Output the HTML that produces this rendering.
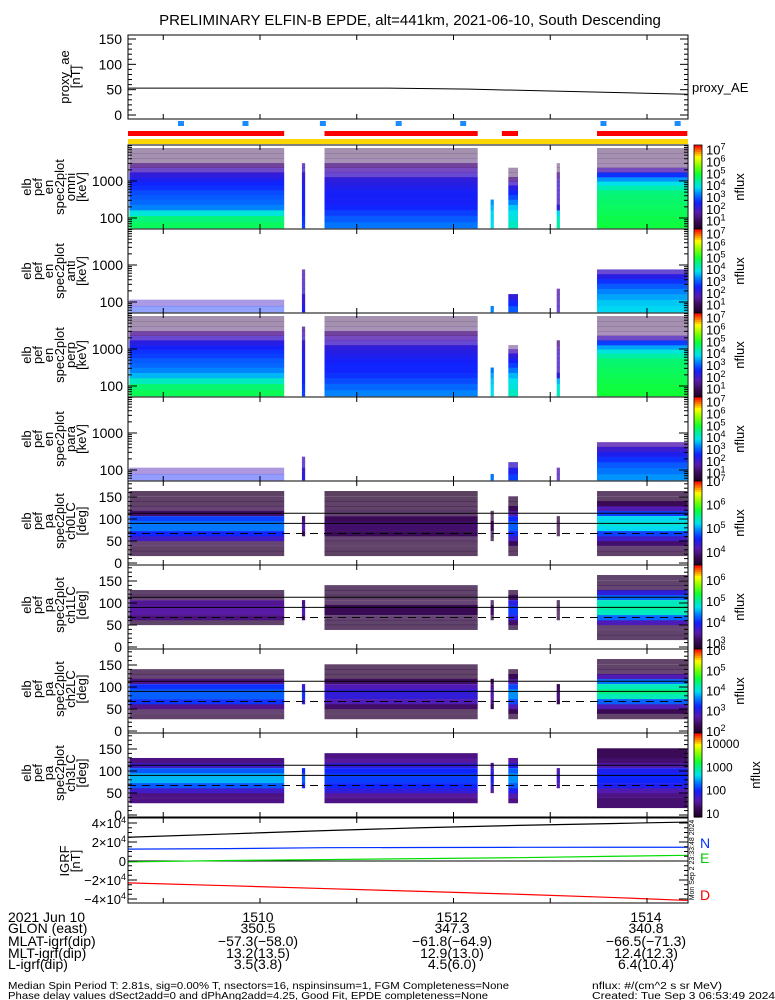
<!DOCTYPE html>
<html><head><meta charset="utf-8">
<style>
html,body{margin:0;padding:0;background:#fff;}
svg{display:block;font-family:"Liberation Sans",sans-serif;}
text{fill:#000;}
</style></head>
<body>
<svg id="chart" width="775" height="1000" viewBox="0 0 775 1000" xmlns="http://www.w3.org/2000/svg">
<text x="410" y="25" font-size="15" text-anchor="middle">PRELIMINARY ELFIN-B EPDE, alt=441km, 2021-06-10, South Descending</text>
<g id="layer"></g>
</svg>
<script>
// ---- time data (seconds after 15:08:00) ----
const segStart = [39, 146, 160, 263, 274, 304, 329];
const segEnd   = [135, 148, 255, 265, 280, 306, 385];
const scienceStart = [38, 160, 270, 329];
const scienceEnd   = [135, 255, 280, 385];
const spinMarks = [71, 111, 159, 206, 246, 333, 379];
const minuteTicks = [1509, 1510, 1511, 1512, 1513, 1514];

// ---- proxy AE ----
const aeT = [38, 200, 250, 385];
const aeV = [53, 53, 51, 41];
const aeTicks = [0, 50, 100, 150];

// ---- energy spectra (log10 nflux), 16 channels ----
const energyCenters = [63, 97, 138, 194, 271, 367, 487, 658, 876, 1104, 1475, 1994, 2627, 3513, 4654, 6565];
const N = null;
const omniSegs = [
 [4.75,4.6,4.0,3.3,3.1,3.0,2.9,2.7,2.6,2.4,2.2,1.9,1.4,1.0,0.9,0.9],
 [2.8,2.7,2.6,2.6,2.5,2.5,2.4,2.4,2.3,2.2,2.1,2.0,1.9,N,N,N],
 [3.2,3.0,2.8,2.6,2.5,2.5,2.5,2.4,2.3,2.2,2.0,1.8,1.4,1.1,0.9,0.9],
 [3.9,3.8,3.8,3.6,3.4,N,N,N,N,N,N,N,N,N,N,N],
 [4.2,4.0,3.9,3.7,3.3,2.9,2.6,2.3,2.0,1.4,0.9,0.9,N,N,N,N],
 [4.4,4.2,3.8,2.2,2.0,2.0,2.0,2.0,2.0,1.8,1.5,1.0,1.0,N,N,N],
 [4.9,4.85,4.8,4.75,4.7,4.65,4.6,4.3,3.9,3.4,2.7,1.8,1.1,1.0,0.9,0.9]
];
const antiSegs = [
 [2.7,2.0,N,N,N,N,N,N,N,N,N,N,N,N,N,N],
 [2.4,2.2,2.1,2.0,2.0,1.9,1.9,1.8,N,N,N,N,N,N,N,N],
 [N,N,N,N,N,N,N,N,N,N,N,N,N,N,N,N],
 [3.3,N,N,N,N,N,N,N,N,N,N,N,N,N,N,N],
 [3.0,2.6,2.2,N,N,N,N,N,N,N,N,N,N,N,N,N],
 [2.0,1.9,1.8,1.8,N,N,N,N,N,N,N,N,N,N,N,N],
 [3.8,3.7,3.5,3.3,3.0,2.7,2.3,2.0,N,N,N,N,N,N,N,N]
];
const perpSegs = [
 [4.8,4.65,4.2,3.6,3.3,3.1,3.0,2.8,2.7,2.5,2.3,2.0,1.5,1.1,0.9,0.9],
 [2.8,2.7,2.6,2.6,2.5,2.5,2.4,2.4,2.3,2.2,2.1,2.0,1.9,1.5,N,N],
 [3.3,3.1,2.9,2.7,2.6,2.6,2.5,2.4,2.3,2.2,2.0,1.8,1.4,1.1,0.9,0.9],
 [3.9,3.8,3.7,3.5,3.2,N,N,N,N,N,N,N,N,N,N,N],
 [4.2,4.0,3.9,3.6,3.2,2.8,2.5,2.2,1.9,1.3,N,N,N,N,N,N],
 [4.2,4.0,3.6,2.2,2.0,2.0,2.0,2.0,1.9,1.7,1.4,N,N,N,N,N],
 [4.95,4.9,4.85,4.8,4.75,4.7,4.65,4.4,4.0,3.5,2.8,1.9,1.2,1.0,0.9,0.9]
];
const paraSegs = [
 [2.6,1.9,N,N,N,N,N,N,N,N,N,N,N,N,N,N],
 [2.3,2.1,2.0,1.9,N,N,N,N,N,N,N,N,N,N,N,N],
 [N,N,N,N,N,N,N,N,N,N,N,N,N,N,N,N],
 [3.2,N,N,N,N,N,N,N,N,N,N,N,N,N,N,N],
 [2.8,2.4,2.0,N,N,N,N,N,N,N,N,N,N,N,N,N],
 [1.9,1.8,N,N,N,N,N,N,N,N,N,N,N,N,N,N],
 [3.4,3.2,3.0,2.7,2.4,2.1,1.8,N,N,N,N,N,N,N,N,N]
];

// ---- pitch-angle spectra (log10 nflux), 13 bins ----
const pitchCenters = [22,33,45,56,67,79,90,101,113,124,135,146,158];
const ch0Segs = [
 [3.6,3.6,3.7,4.3,4.6,4.9,4.9,4.7,3.9,3.7,3.6,3.6,3.55],
 [N,N,N,N,3.8,4.2,4.2,3.9,N,N,N,N,N],
 [3.55,3.6,3.6,3.7,3.8,3.9,3.9,3.8,3.7,3.6,3.6,3.55,3.5],
 [N,N,N,3.6,3.7,3.8,3.8,3.7,3.6,N,N,N,N],
 [3.6,3.6,3.8,4.3,4.6,4.8,4.8,4.6,4.2,3.8,3.6,3.6,N],
 [N,N,N,N,3.6,3.7,3.7,3.6,N,N,N,N,N],
 [3.6,3.7,3.9,4.3,4.7,5.2,5.3,5.2,4.7,4.2,3.8,3.6,3.6]
];
const ch1Segs = [
 [N,N,N,2.9,3.3,3.5,3.5,3.4,3.0,2.9,N,N,N],
 [N,N,N,N,3.2,3.6,3.6,3.3,N,N,N,N,N],
 [N,N,2.9,2.9,3.0,3.1,3.1,3.0,2.9,2.9,2.9,N,N],
 [N,N,N,N,3.0,3.2,3.2,3.0,N,N,N,N,N],
 [N,N,2.9,3.2,3.8,4.1,4.1,3.8,3.2,2.9,N,N,N],
 [N,N,N,N,2.9,3.0,3.0,2.9,N,N,N,N,N],
 [2.9,2.9,3.0,3.6,4.3,4.9,5.0,4.9,4.3,3.8,3.0,2.9,2.9]
];
const ch2Segs = [
 [N,2.1,2.2,2.6,3.3,3.5,3.5,3.3,2.6,2.2,2.1,N,N],
 [N,N,N,N,3.0,3.3,3.3,3.0,N,N,N,N,N],
 [N,2.1,2.1,2.4,2.8,3.0,3.0,2.8,2.4,2.1,2.1,2.1,N],
 [N,N,N,2.3,2.6,2.8,2.8,2.6,2.3,N,N,N,N],
 [N,2.1,2.3,2.8,3.4,3.7,3.7,3.4,2.8,2.3,2.1,N,N],
 [N,N,N,N,2.3,2.5,2.5,2.3,N,N,N,N,N],
 [N,2.1,2.3,2.8,3.5,4.2,4.4,4.2,3.6,2.8,2.2,2.1,2.1]
];
const ch3Segs = [
 [N,1.4,1.4,1.7,2.2,2.5,2.5,2.2,1.7,1.4,N,N,N],
 [N,N,N,N,2.0,2.2,2.2,2.0,N,N,N,N,N],
 [N,1.4,1.5,1.8,2.0,2.1,2.1,2.0,1.8,1.5,1.4,N,N],
 [N,N,N,1.5,1.8,1.9,1.9,1.8,1.5,N,N,N,N],
 [N,1.4,1.6,1.9,2.2,2.4,2.4,2.2,1.9,1.5,N,N,N],
 [N,N,N,N,1.6,1.7,1.7,1.6,N,N,N,N,N],
 [1.3,1.3,1.4,1.6,1.9,2.0,2.0,1.9,1.6,1.3,1.2,1.2,N]
];

// ---- IGRF (nT) ----
const igrfT = [38, 100, 160, 220, 280, 340, 385];
const igrfTot = [25000, 28500, 32000, 35000, 37500, 39500, 41000];
const igrfN = [12500, 13000, 14000, 14200, 14400, 14500, 14500];
const igrfE = [-1000, 500, 1500, 2500, 3500, 5000, 6000];
const igrfD = [-23000, -26000, -29000, -32000, -35000, -38500, -41500];

// ---- layout ----
const NS = 'http://www.w3.org/2000/svg';
const layer = document.getElementById('layer');
const XL = 128, XR = 688;
function xOf(t){ return 260 + (t - 120) * 96.75 / 60; }
function mk(tag, attrs, parent){
  const e = document.createElementNS(NS, tag);
  for (const k in attrs) e.setAttribute(k, attrs[k]);
  (parent || layer).appendChild(e);
  return e;
}
const stops = [[0,'#200020'],[0.10,'#3a0a55'],[0.20,'#5a1aa8'],[0.32,'#1020ff'],[0.42,'#0080ff'],[0.50,'#00e0f0'],[0.58,'#00f0a0'],[0.66,'#10ff30'],[0.76,'#80ff00'],[0.86,'#ffff00'],[0.93,'#ff8000'],[1,'#ff0000']];
function hex(h){ return [1,3,5].map(i=>parseInt(h.substr(i,2),16)); }
function cmap(v){
  v = Math.max(0, Math.min(1, v));
  for (let i=1;i<stops.length;i++){
    if (v <= stops[i][0]){
      const a = hex(stops[i-1][1]), b = hex(stops[i][1]);
      const f = (v - stops[i-1][0]) / (stops[i][0] - stops[i-1][0]);
      return 'rgb(' + a.map((c,j)=>Math.round(c + (b[j]-c)*f)).join(',') + ')';
    }
  }
  return '#ff0000';
}
function line(x1,y1,x2,y2,g,extra){
  return mk('line', Object.assign({x1,y1,x2,y2,stroke:'#000','stroke-width':1}, extra||{}), g);
}
function txt(x,y,s,size,anchor,g,extra){
  const t = mk('text', Object.assign({x,y,'font-size':size,'text-anchor':anchor||'start'}, extra||{}), g);
  t.textContent = s;
  return t;
}
function frame(top, bot, g){
  const r = mk('rect', {x:XL, y:top, width:XR-XL, height:bot-top, fill:'none', stroke:'#000', 'stroke-width':1}, g);
  
  
  minuteTicks.forEach(m => {
    const x = xOf((m - 1508) * 60);
    line(x, bot, x, bot-5, g);
    line(x, top, x, top+5, g);
  });
}
function sideLabel(lines, cy, g){
  const x0 = 27, dx = 11;
  lines.forEach((s,i) => {
    const x = x0 + i*dx + (lines.length===2 ? 38 : (6 - lines.length)*6);
    txt(x, cy, s, 13, 'middle', g, {transform:'rotate(-90 '+x+' '+cy+')', dy:'4'});
  });
}
function colorbar(top, bot, lo, hi, labels, g){
  const cb = mk('g', {}, g);
  
  
  const n = 40;
  for (let i=0;i<n;i++){
    const y = bot - (i+1)*(bot-top)/n;
    mk('rect', {x:694, y:y, width:8, height:(bot-top)/n+0.6, fill:cmap((i+0.5)/n)}, cb);
  }
  mk('rect', {x:694, y:top, width:8, height:bot-top, fill:'none', stroke:'#000','stroke-width':0.8}, cb);
  labels.forEach(L => {
    const y = bot - (L.v - lo)/(hi - lo)*(bot-top);
    if (y < top-4 || y > bot+4) return;
    const t = mk('text', {x:706, y:y+5, 'font-size':L.sup?13:12}, cb);
    if (L.sup){
      t.textContent = '10';
      const s = mk('tspan', {dy:-5, 'font-size':9}, t);
      s.textContent = L.sup;
    } else t.textContent = L.s;
  });
  const cy = (top+bot)/2;
  const x = labels.some(l=>l.s && l.s.length>3) ? 760 : 744;
  txt(x, cy, 'nflux', 13, 'middle', cb, {transform:'rotate(-90 '+x+' '+cy+')'});
}

// ---- proxy AE panel ----
(function(){
  const g = mk('g', {});
  
  
  const top = 35, bot = 119;
  const y = v => 115 - v * 76 / 150;
  frame(top, bot, g);
  aeTicks.forEach(v => { line(XL, y(v), XL+8, y(v), g); line(XR, y(v), XR-8, y(v), g); txt(122, y(v)+5, String(v), 14, 'end', g); });
  for (let v=10; v<=150; v+=10){ if (v%50) { line(XL, y(v), XL+4, y(v), g); line(XR, y(v), XR-4, y(v), g);} }
  const pts = aeT.map((t,i)=> xOf(t)+','+y(aeV[i])).join(' ');
  const pl = mk('polyline', {points:pts, fill:'none', stroke:'#000', 'stroke-width':1}, g);
  
  
  sideLabel(['proxy_ae','[nT]'], 77, g);
  txt(692, 92, 'proxy_AE', 13, 'start', g);
})();

// ---- bars ----
(function(){
  const g = mk('g', {});
  
  
  spinMarks.forEach(t => {
    const r = mk('rect', {x:xOf(t)-3, y:121, width:6, height:5, fill:'#1a8cff'}, g);
    
    
  });
  scienceStart.forEach((s,i) => {
    const r = mk('rect', {x:Math.max(XL,xOf(s)), y:131, width:Math.min(XR,xOf(scienceEnd[i]))-Math.max(XL,xOf(s)), height:5, fill:'#ff0000'}, g);
    
    
  });
  const yb = mk('rect', {x:XL, y:139, width:XR-XL, height:5, fill:'#ffd700'}, g);
  
  
})();

// ---- energy panels ----
function energyEdges(){
  const lg = energyCenters.map(Math.log10);
  const e = [lg[0] - (lg[1]-lg[0])/2];
  for (let i=0;i<lg.length-1;i++) e.push((lg[i]+lg[i+1])/2);
  e.push(lg[lg.length-1] + (lg[lg.length-1]-lg[lg.length-2])/2);
  return e;
}
function energyPanel(top, segs, name, label, sparse){
  const g = mk('g', {});
  
  
  const bot = top + 84;
  const yE = lg => top + 73 - (lg - 2) * 37;
  const edges = energyEdges();
  const lo = 0.3, hi = 7.4;
  segs.forEach((seg, si) => {
    const x1 = xOf(segStart[si]), x2 = Math.max(xOf(segEnd[si]), x1+2.5);
    seg.forEach((v, bi) => {
      if (v === null) return;
      const ya = Math.max(top+1, yE(edges[bi+1])), yb = Math.min(bot-1, yE(edges[bi]));
      if (yb <= ya) return;
      const nv = (v-lo)/(hi-lo);
      let op = nv < 0.15 ? 0.45 : (nv < 0.25 ? 0.8 : 1);
      if (sparse && si === 0) op = 0.45;
      const r = mk('rect', {x:x1, y:ya, width:Math.min(x2,XR)-x1, height:yb-ya+0.3, fill:cmap(nv), 'fill-opacity':op}, g);
      
      
    });
  });
  frame(top, bot, g);
  for (let d=1; d<=3; d++) for (let m=1; m<10; m++){
    const y = yE(d + Math.log10(m));
    if (y < top || y > bot) continue;
    const len = m===1 ? 9 : 4;
    line(XL, y, XL+len, y, g); line(XR, y, XR-len, y, g);
  }
  txt(123, yE(3)+5, '1000', 14, 'end', g);
  txt(123, yE(2)+5, '100', 14, 'end', g);
  sideLabel(['elb','pef','en','spec2plot',label,'[keV]'], top+42, g);
  const labs = [1,2,3,4,5,6,7].map(k=>({v:k, sup:String(k)}));
  colorbar(top, bot, lo, hi, labs, g);
}
energyPanel(145, omniSegs, 'energy-spectrogram-omni', 'omni', false);
energyPanel(229, antiSegs, 'energy-spectrogram-anti', 'anti', true);
energyPanel(313, perpSegs, 'energy-spectrogram-perp', 'perp', false);
energyPanel(397, paraSegs, 'energy-spectrogram-para', 'para', true);

// ---- pitch panels ----
function pitchPanel(top, segs, name, label, lo, hi, labs){
  const g = mk('g', {});
  
  
  const bot = top + 84;
  const yP = p => top + 82 - p * 0.44;
  segs.forEach((seg, si) => {
    const x1 = xOf(segStart[si]), x2 = Math.max(xOf(segEnd[si]), x1+2.5);
    seg.forEach((v, bi) => {
      if (v === null) return;
      const c = pitchCenters[bi];
      const ya = yP(c + 5.6), yb = yP(c - 5.6);
      const nv = (v-lo)/(hi-lo);
      const op = nv < 0.08 ? 0.75 : 1;
      const r = mk('rect', {x:x1, y:ya, width:Math.min(x2,XR)-x1, height:yb-ya+0.3, fill:cmap(nv), 'fill-opacity':op}, g);
      
      
    });
  });
  line(XL, yP(113), XR, yP(113), g);
  line(XL, yP(90), XR, yP(90), g);
  line(XL, yP(67), XR, yP(67), g, {'stroke-dasharray':'8,6'});
  frame(top, bot, g);
  for (let p=0; p<=180; p+=10){
    const len = p%50===0 ? 9 : 4;
    line(XL, yP(p), XL+len, yP(p), g); line(XR, yP(p), XR-len, yP(p), g);
  }
  [0,50,100,150].forEach(p => txt(122, yP(p)+5, String(p), 14, 'end', g));
  sideLabel(['elb','pef','pa','spec2plot',label,'[deg]'], top+40, g);
  colorbar(top, bot, lo, hi, labs, g);
}
const sup = a => a.map(k=>({v:k, sup:String(k)}));
pitchPanel(481, ch0Segs, 'pitch-spectrogram-ch0', 'ch0LC', 3.44, 7.0, sup([4,5,6,7]));
pitchPanel(565, ch1Segs, 'pitch-spectrogram-ch1', 'ch1LC', 2.71, 6.71, sup([3,4,5,6]));
pitchPanel(649, ch2Segs, 'pitch-spectrogram-ch2', 'ch2LC', 1.9, 6.05, sup([2,3,4,5,6]));
pitchPanel(733, ch3Segs, 'pitch-spectrogram-ch3', 'ch3LC', 0.83, 4.43, [{v:1,s:'10'},{v:2,s:'100'},{v:3,s:'1000'},{v:4,s:'10000'}]);

// ---- IGRF panel ----
(function(){
  const g = mk('g', {});
  
  
  const top = 818, bot = 903;
  const y = v => 861 - v * 38 / 40000;
  line(XL, y(0), XR, y(0), g);
  const series = [[igrfTot,'#000','igrf-total-line'],[igrfN,'#0030ff','igrf-n-line'],[igrfE,'#00dd00','igrf-e-line'],[igrfD,'#ff0000','igrf-d-line']];
  series.forEach(s => {
    const pts = igrfT.map((t,i)=> xOf(t)+','+y(s[0][i])).join(' ');
    const pl = mk('polyline', {points:pts, fill:'none', stroke:s[1], 'stroke-width':1.2}, g);
    
    
  });
  frame(top, bot, g);
  for (let v=-40000; v<=40000; v+=5000){
    const len = v%20000===0 ? 9 : 4;
    line(XL, y(v), XL+len, y(v), g); line(XR, y(v), XR-len, y(v), g);
  }
  [[40000,'4×10','4'],[20000,'2×10','4'],[0,'0',''],[-20000,'−2×10','4'],[-40000,'−4×10','4']].forEach(a => {
    const t = txt(126, y(a[0])+5, '', 13, 'end', g);
    t.textContent = a[1];
    if (a[2]){ const s = mk('tspan', {dy:-5,'font-size':9}, t); s.textContent = a[2]; }
  });
  sideLabel(['IGRF','[nT]'], 861, g);
  txt(700, 848, 'N', 14, 'start', g, {style:'fill:#0030ff'});
  txt(700, 863, 'E', 14, 'start', g, {style:'fill:#00cc00'});
  txt(700, 900, 'D', 14, 'start', g, {style:'fill:#ff0000'});
  txt(694, 860, 'Mon Sep  2 23:33:48 2024', 7, 'middle', g, {transform:'rotate(-90 694 860)'});
})();

// ---- annotation rows ----
(function(){
  const g = mk('g', {});
  
  
  const rowNames = ['2021 Jun 10','GLON (east)','MLAT-igrf(dip)','MLT-igrf(dip)','L-igrf(dip)'];
  const rowY = [922, 933, 946, 958, 969];
  const cols = [
    ['1510','350.5','−57.3(−58.0)','13.2(13.5)','3.5(3.8)'],
    ['1512','347.3','−61.8(−64.9)','12.9(13.0)','4.5(6.0)'],
    ['1514','340.8','−66.5(−71.3)','12.4(12.3)','6.4(10.4)']
  ];
  const colX = [258, 452, 646];
  rowNames.forEach((s,i) => txt(8, rowY[i], s, 14, 'start', g));
  cols.forEach((c,ci) => c.forEach((s,i) => txt(colX[ci], rowY[i], s, 14, 'middle', g)));
  txt(8, 989, 'Median Spin Period T: 2.81s, sig=0.00% T, nsectors=16, nspinsinsum=1, FGM Completeness=None', 10.5, 'start', g, {textLength:501, lengthAdjust:'spacingAndGlyphs'});
  txt(8, 999, 'Phase delay values dSect2add=0 and dPhAng2add=4.25, Good Fit, EPDE completeness=None', 10.5, 'start', g, {textLength:480, lengthAdjust:'spacingAndGlyphs'});
  txt(592, 989, 'nflux: #/(cm^2 s sr MeV)', 10.5, 'start', g, {textLength:130, lengthAdjust:'spacingAndGlyphs'});
  txt(592, 999, 'Created: Tue Sep  3 06:53:49 2024', 10.5, 'start', g, {textLength:183, lengthAdjust:'spacingAndGlyphs'});
})();
</script>
</body></html>
